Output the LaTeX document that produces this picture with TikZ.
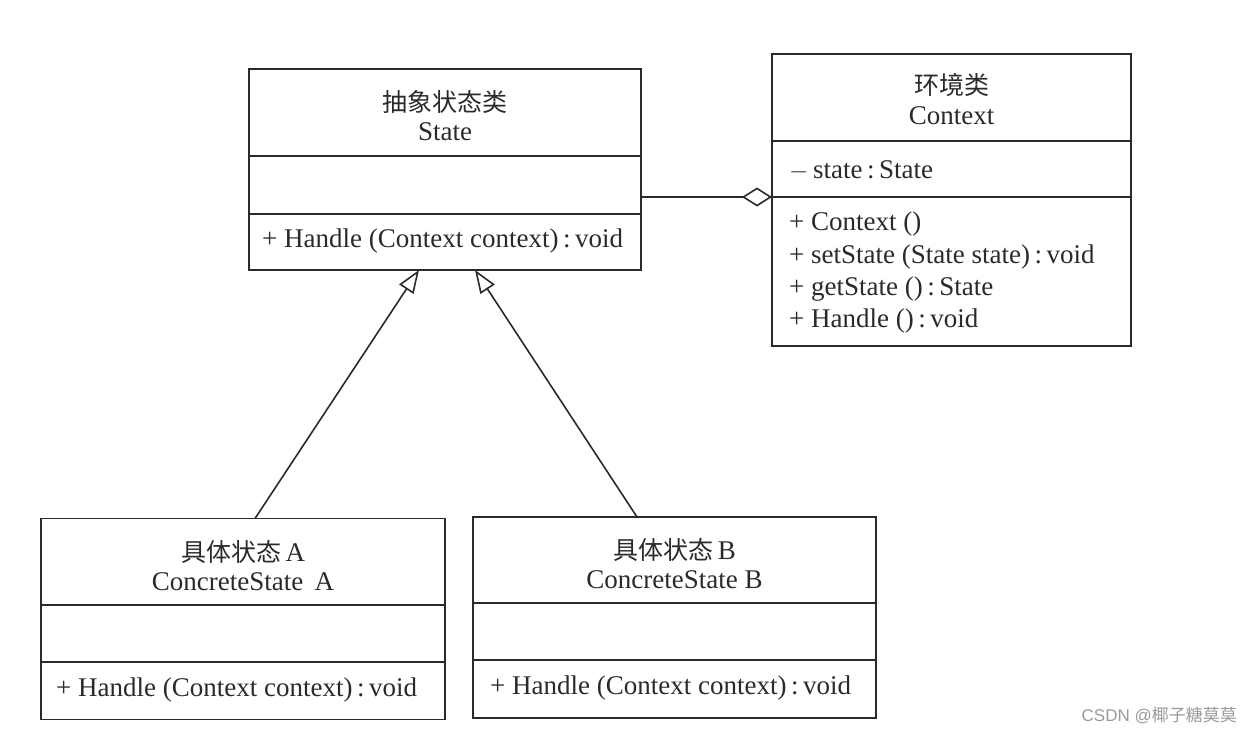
\documentclass[tikz,border=0pt]{standalone}
\usepackage{fontspec}
\setmainfont{Liberation Serif}
\newfontfamily\cjk{Noto Sans CJK SC}
\newfontfamily\wmfont{Liberation Sans}
\usetikzlibrary{arrows.meta}
\definecolor{ink}{HTML}{2A2A2A}
\definecolor{wm}{HTML}{9A9A9A}
\begin{document}
\begin{tikzpicture}[x=1pt,y=-1pt,
  box/.style={draw=ink, line width=1.8pt, minimum width=#1, inner sep=0pt, outer sep=0pt},
  divider/.style={draw=ink, line width=1.8pt},
  lbl/.style={text=ink, font=\fontsize{27}{31}\selectfont, inner sep=0pt},
  title/.style={lbl, align=center},
  member/.style={lbl, anchor=west},
  inherit/.style={draw=ink, line width=1.6pt, -{Triangle[open, length=23pt, width=17pt, line width=1.6pt]}},
  aggr/.style={draw=ink, line width=1.6pt, -{Diamond[open, length=30pt, width=19pt, line width=1.6pt]}}]
\useasboundingbox (0,0) rectangle (1252,734);

% ---- State (abstract) ----
\node[box=392pt, minimum height=201pt] (S) at (445,169.5) {};
\draw[divider] (249,156) -- (641,156);
\draw[divider] (249,214) -- (641,214);
\node[title] (St1) at (445,102) {\cjk\fontsize{25}{30}\selectfont 抽象状态类};
\node[title] (St2) at (445,132) {State};
\node[member] (Sm1) at (262,241) {+ Handle (Context context)\,:\,void};

% ---- Context ----
\node[box=359pt, minimum height=292pt] (C) at (951.5,200) {};
\draw[divider] (772,141) -- (1131,141);
\draw[divider] (772,197) -- (1131,197);
\node[title] (Ct1) at (951.5,85) {\cjk\fontsize{25}{30}\selectfont 环境类};
\node[title] (Ct2) at (951.5,116) {Context};
\node[member] (Ca1) at (789,171) {$-$\,state\,:\,State};
\node[member] (Cm1) at (789,224) {+ Context ()};
\node[member] (Cm2) at (789,257) {+ setState (State state)\,:\,void};
\node[member] (Cm3) at (789,289) {+ getState ()\,:\,State};
\node[member] (Cm4) at (789,321) {+ Handle ()\,:\,void};

% ---- ConcreteState A ----
\node[box=404pt, minimum height=201pt] (A) at (243,619) {};
\draw[divider] (41,605) -- (445,605);
\draw[divider] (41,662) -- (445,662);
\node[title] (At1) at (243,552) {{\cjk\fontsize{25}{30}\selectfont 具体状态}\,A};
\node[title] (At2) at (243,582) {ConcreteState\, A};
\node[member] (Am1) at (56,690) {+ Handle (Context context)\,:\,void};

% ---- ConcreteState B ----
\node[box=403pt, minimum height=201pt] (B) at (674.5,617.5) {};
\draw[divider] (473,603) -- (876,603);
\draw[divider] (473,660) -- (876,660);
\node[title] (Bt1) at (674.5,550) {{\cjk\fontsize{25}{30}\selectfont 具体状态}\,B};
\node[title] (Bt2) at (674.5,580) {ConcreteState B};
\node[member] (Bm1) at (490,688) {+ Handle (Context context)\,:\,void};

% ---- connectors ----
\coordinate (aStart) at (A.north -| 255,0);
\coordinate (aEnd) at (S.south -| 419,0);
\coordinate (bStart) at (B.north -| 637,0);
\coordinate (bEnd) at (S.south -| 475,0);
\draw[inherit] (aStart) -- (aEnd);
\draw[inherit] (bStart) -- (bEnd);
\coordinate (agY) at (0,197);
\draw[aggr] (S.east |- agY) -- (C.west |- agY);

% ---- watermark ----
\node[text=wm, font=\wmfont\fontsize{17}{20}\selectfont, anchor=east, inner sep=0pt] (wmk) at (1237,715) {CSDN @{\cjk 椰子糖莫莫}};
\end{tikzpicture}
\end{document}
